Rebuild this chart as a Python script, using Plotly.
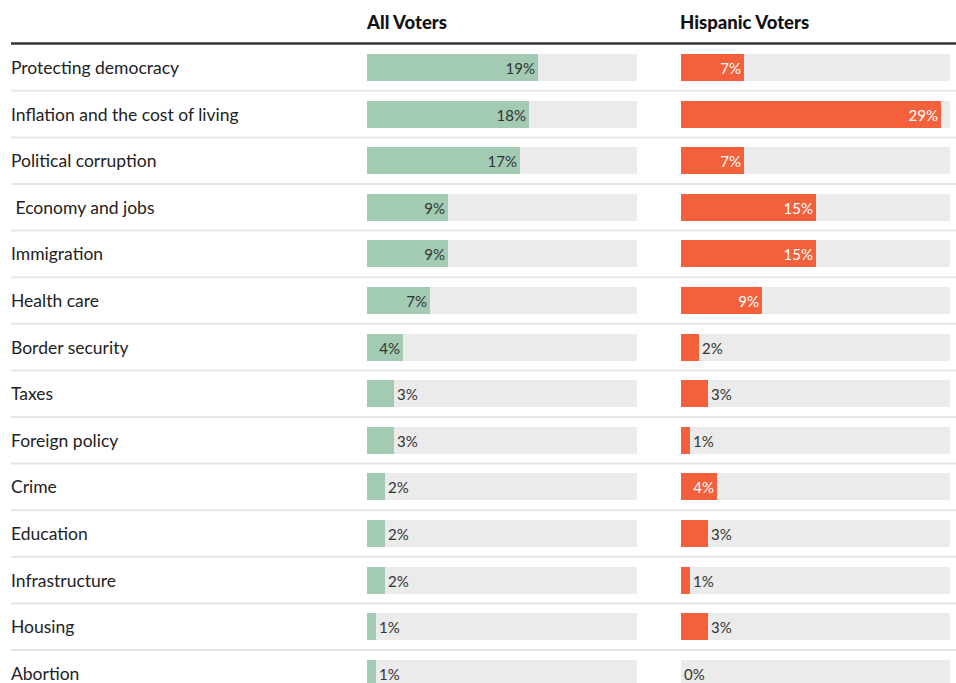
import plotly.graph_objects as go

categories = ["Protecting democracy", "Inflation and the cost of living", "Political corruption",
              " Economy and jobs", "Immigration", "Health care", "Border security", "Taxes",
              "Foreign policy", "Crime", "Education", "Infrastructure", "Housing", "Abortion"]
all_voters = [19, 18, 17, 9, 9, 7, 4, 3, 3, 2, 2, 2, 1, 1]
hispanic_voters = [7, 29, 7, 15, 15, 9, 2, 3, 1, 4, 3, 1, 3, 0]
column_titles = ["All Voters", "Hispanic Voters"]
scale_max = 30
inside_threshold = 4

W, H = 956, 683
ROW0, ROWH = 67.5, 46.6
FONT = "Lato"
n = len(categories)
pos = list(range(n))

fig = go.Figure()

panels = [
    ("x", all_voters, "#a3cbb3", "#333333"),
    ("x2", hispanic_voters, "#f2613b", "#ffffff"),
]
for xa, vals, color, inside_col in panels:
    fig.add_trace(go.Bar(
        x=[scale_max] * n, y=pos, orientation="h", xaxis=xa, yaxis="y",
        marker=dict(color="#ebebeb", line=dict(width=0)), width=0.58,
        hoverinfo="skip", showlegend=False))
    fig.add_trace(go.Bar(
        x=vals, y=pos, orientation="h", xaxis=xa, yaxis="y",
        marker=dict(color=color, line=dict(width=0)), width=0.58,
        text=[f"{v}%" for v in vals],
        textposition=["inside" if v >= inside_threshold else "outside" for v in vals],
        insidetextanchor="end", textangle=0,
        insidetextfont=dict(family=FONT, size=15, color=inside_col),
        outsidetextfont=dict(family=FONT, size=15, color="#333333"),
        cliponaxis=False, showlegend=False, hoverinfo="skip"))

annotations = []
for i, c in enumerate(categories):
    annotations.append(dict(
        x=9 / W, xref="paper", xanchor="left", y=i, yref="y", yanchor="middle",
        text=c.replace(" ", "\u00a0"), showarrow=False,
        font=dict(family=FONT, size=17.5, color="#222222")))
for title, xpix in zip(column_titles, [364, 678]):
    annotations.append(dict(
        x=xpix / W, xref="paper", xanchor="left", y=1 - 22 / H, yref="paper",
        yanchor="middle", text=title, showarrow=False,
        font=dict(family=FONT, size=18.5, color="#111111", weight=900)))

shapes = [dict(type="line", xref="paper", yref="paper", x0=11 / W, x1=1,
               y0=1 - 43.5 / H, y1=1 - 43.5 / H, line=dict(color="#333333", width=2.5))]
for i in range(n - 1):
    shapes.append(dict(type="line", xref="paper", yref="y", x0=11 / W, x1=1,
                       y0=i + 0.5, y1=i + 0.5, line=dict(color="#e6e6e6", width=2),
                       layer="below"))

fig.update_layout(
    width=W, height=H, margin=dict(l=0, r=0, t=0, b=0),
    paper_bgcolor="white", plot_bgcolor="white",
    barmode="overlay", bargap=0,
    uniformtext=dict(minsize=15, mode="show"),
    xaxis=dict(domain=[367 / W, 637 / W], range=[0, scale_max], visible=False, fixedrange=True),
    xaxis2=dict(domain=[681 / W, 950 / W], range=[0, scale_max], visible=False, anchor="y", fixedrange=True),
    yaxis=dict(range=[(H - ROW0) / ROWH, -ROW0 / ROWH], visible=False, fixedrange=True),
    annotations=annotations, shapes=shapes,
)

fig.write_html("out.html", config={"displayModeBar": False},
               post_script="document.body.style.margin='0';document.body.style.overflow='hidden';")
